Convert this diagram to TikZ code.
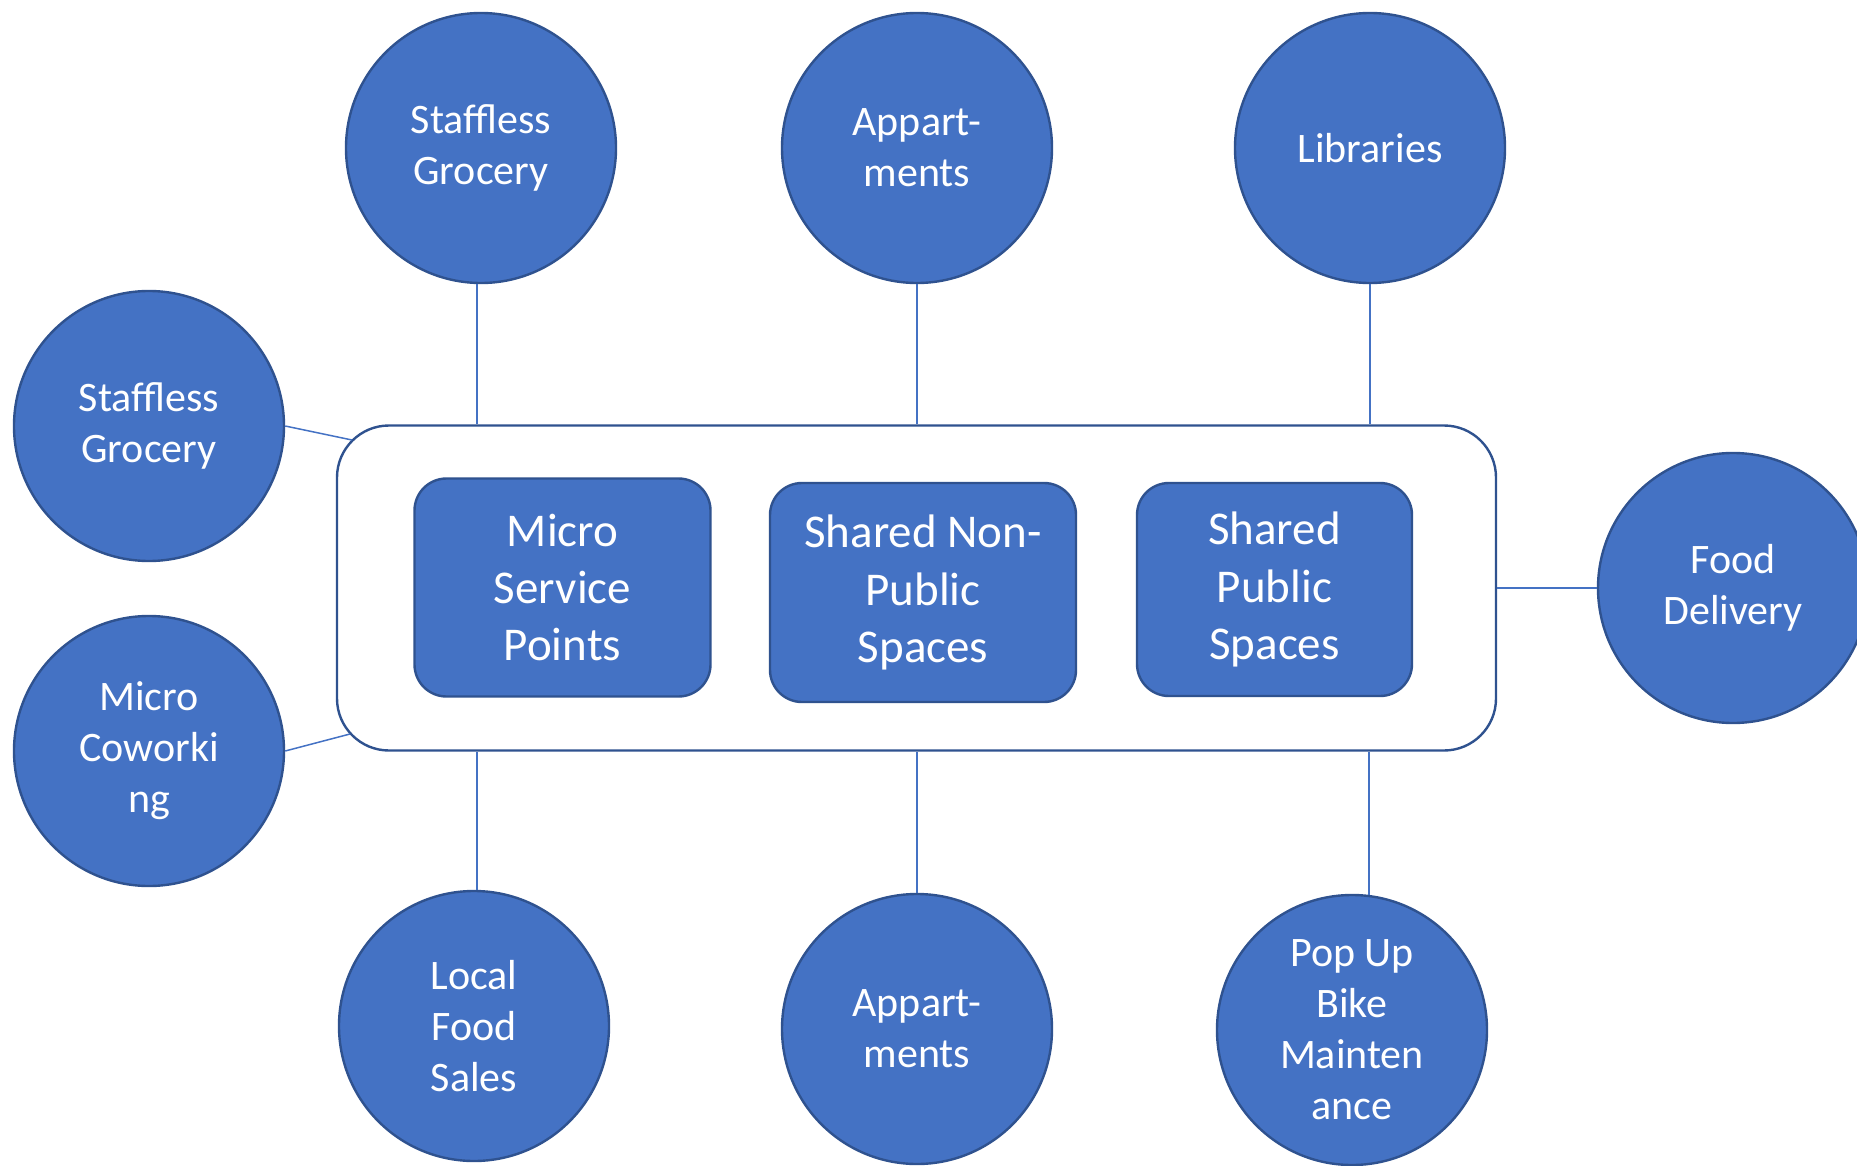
\documentclass[tikz,border=0pt]{standalone}
\usepackage{fontspec}
\setmainfont{Carlito}
\definecolor{bubble}{HTML}{4472C4}
\definecolor{rim}{HTML}{2F528F}
\begin{document}
\begin{tikzpicture}[x=0.5pt, y=-0.5pt,
    hub/.style={circle, fill=bubble, draw=rim, line width=1.2pt, minimum size=135pt,
        inner sep=0pt, align=center, text=white, font=\fontsize{21}{25.5}\selectfont},
    block/.style={rectangle, rounded corners=16pt, fill=bubble, draw=rim, line width=1.2pt,
        inner sep=0pt, align=center, text=white, font=\fontsize{23.5}{28.7}\selectfont},
    link/.style={draw=bubble, line width=0.75pt}]
    \useasboundingbox (0,0) rectangle (1857,1166);
    \clip (0,0) rectangle (1857,1166);

    % frame with the three space types
    \node[draw=rim, line width=1.2pt, fill=white, rounded corners=26pt,
          minimum width=579.5pt, minimum height=162.5pt] (frame) at (916.5,588) {};
    \node[block, minimum width=148pt, minimum height=109pt]   (msp) at (562.5,587.5) {Micro\\Service\\Points};
    \node[block, minimum width=153pt, minimum height=109.5pt] (snp) at (923,592.5)  {Shared Non-\\Public\\Spaces};
    \node[block, minimum width=137.5pt, minimum height=106.5pt] (sps) at (1274.5,589.5) {Shared\\Public\\Spaces};

    % surrounding uses
    \node[hub] (sgTop)  at (481,148)   {Staffless\\Grocery};
    \node[hub] (apTop)  at (917,148)   {Appart-\\ments};
    \node[hub] (lib)    at (1370,148)  {Libraries};
    \node[hub] (sgLeft) at (149,426)   {Staffless\\Grocery};
    \node[hub] (mcw)    at (149,751)   {Micro\\Coworki\\ng};
    \node[hub] (food)   at (1733,588)  {Food\\Delivery};
    \node[hub] (lfs)    at (474,1026)  {Local\\Food\\Sales};
    \node[hub] (apBot)  at (917,1029)  {Appart-\\ments};
    \node[hub] (bike)   at (1352,1030) {Pop Up\\Bike\\Mainten\\ance};

    \coordinate (cUL)   at (352,440);
    \coordinate (cLL)   at (350,734);
    \coordinate (bkTop) at (1369,895);

    % connectors
    \draw[link] (sgTop.south -| 477,0) -- (frame.north -| 477,0);
    \draw[link] (apTop.south) -- (apTop.south |- frame.north);
    \draw[link] (lib.south)   -- (lib.south |- frame.north);
    \draw[link] (sgLeft.east) -- (cUL);
    \draw[link] (mcw.east)    -- (cLL);
    \draw[link] (frame.east)  -- (food.west);
    \draw[link] (lfs.north -| 477,0) -- (frame.south -| 477,0);
    \draw[link] (apBot.north) -- (apBot.north |- frame.south);
    \draw[link] (bkTop)       -- (bkTop |- frame.south);
\end{tikzpicture}
\end{document}
